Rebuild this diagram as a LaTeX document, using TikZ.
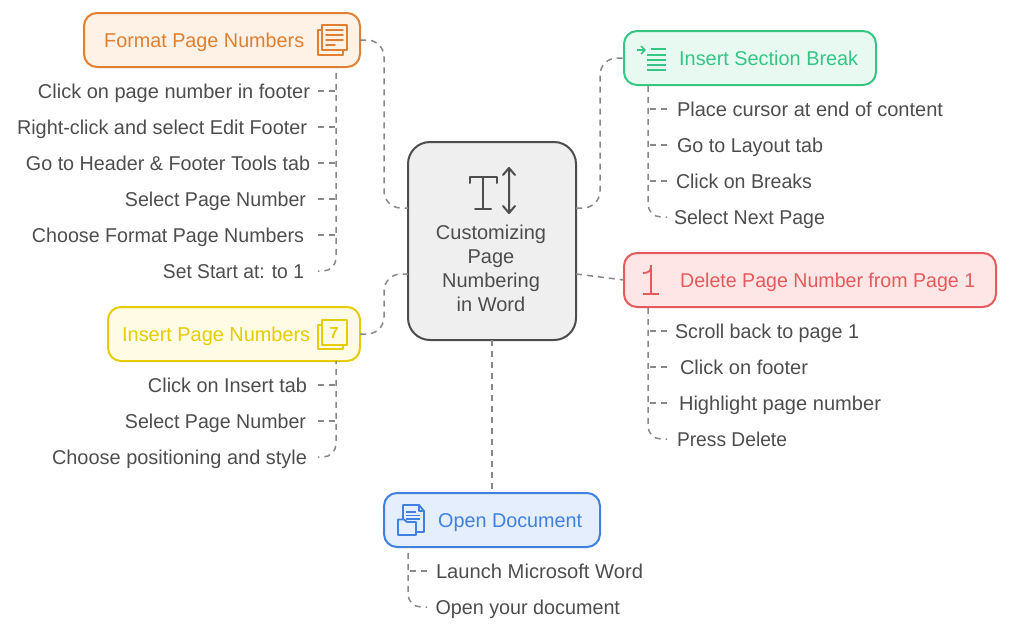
\documentclass[tikz,border=0pt]{standalone}
\usepackage{graphicx}
\usepackage{fontspec}
\setmainfont{Liberation Sans}
\newcommand{\fitw}[2]{\resizebox{#1pt}{\height}{#2}}
\definecolor{txt}{HTML}{4D4D4D}
\definecolor{conn}{HTML}{888888}
\definecolor{cfill}{HTML}{EFEFEF}
\definecolor{co}{HTML}{E08030}\definecolor{fo}{HTML}{FEF1E5}
\definecolor{cy}{HTML}{E6CC00}\definecolor{fy}{HTML}{FFFBE5}
\definecolor{cg}{HTML}{36C684}\definecolor{fg}{HTML}{E8F9F1}
\definecolor{cr}{HTML}{E55A5A}\definecolor{fr}{HTML}{FFE6E6}
\definecolor{cb}{HTML}{4080E0}\definecolor{fb}{HTML}{E5EEFD}
\tikzset{
  cbox/.style={draw=#1,line width=2pt,rounded corners=13pt,inner sep=0pt,outer sep=0pt},
  lead/.style={draw=conn,line width=1.5pt,dash pattern=on 6pt off 5pt},
  trunk/.style={draw=conn,line width=1.5pt,dash pattern=on 6pt off 5pt,dash phase=#1,rounded corners=13pt},
  leafL/.style={anchor=east,inner sep=0pt,text=txt,font=\fontsize{20}{24}\selectfont,text height=17pt,text depth=3pt,outer xsep=#1},
  leafR/.style={anchor=west,inner sep=0pt,text=txt,font=\fontsize{20}{24}\selectfont,text height=17pt,text depth=3pt,outer xsep=#1},
  title/.style={inner sep=0pt,text=#1,font=\fontsize{20}{24}\selectfont,text height=17pt,text depth=3pt},
  icon/.style={draw=#1,line width=1.8pt,line join=round,line cap=round},
}
\begin{document}
\begin{tikzpicture}[x=1pt,y=-1pt]
\useasboundingbox (0,0) rectangle (1009,632);
% boxes
\node[cbox=txt,fill=cfill,minimum width=168pt,minimum height=198pt,rounded corners=22pt] (center) at (492,241) {};
\node[cbox=co,fill=fo,minimum width=276pt,minimum height=54pt] (fmt) at (222,40) {};
\node[cbox=cy,fill=fy,minimum width=252pt,minimum height=54pt] (ins) at (234,334) {};
\node[cbox=cg,fill=fg,minimum width=252pt,minimum height=54pt] (sec) at (750,58) {};
\node[cbox=cr,fill=fr,minimum width=372pt,minimum height=54pt] (del) at (810,280) {};
\node[cbox=cb,fill=fb,minimum width=216pt,minimum height=54pt] (opn) at (492,520) {};
% titles
\node[title=co,anchor=west] (fmtt) at (104,40) {\fitw{200}{Format Page Numbers}};
\node[title=cy,anchor=west] (inst) at (122,334) {\fitw{188}{Insert Page Numbers}};
\node[title=cg,anchor=west] (sect) at (679,58) {\fitw{179}{Insert Section Break}};
\node[title=cr,anchor=west] (delt) at (680,280) {\fitw{295}{Delete Page Number from Page 1}};
\node[title=cb,anchor=west] (opnt) at (438,520) {\fitw{144}{Open Document}};
\node[text=txt,inner sep=0pt,align=center,font=\fontsize{20}{24}\selectfont,anchor=north] (ctxt) at (491,225) {Customizing\\Page\\Numbering\\in Word};
% attachment coordinates on the centre box
\coordinate (cNW) at (408,208);
\coordinate (cSW) at (408,274);
\coordinate (cNE) at (576,208);
\coordinate (cSE) at (576,274);
% main connectors
\draw[lead,rounded corners=17pt] (fmt.east) -- ++(24,0) |- (cNW);
\draw[lead,rounded corners=17pt] (ins.east) -- ++(24,0) |- (cSW);
\draw[lead,rounded corners=17pt] (cNE) -- ++(24,0) |- (sec.west);
\draw[lead] (cSE) -- (del.west);
\draw[lead] (center.south) -- (opn.north);
% leaves: format
\node[leafL=8pt] (f1) at (318,91) {\fitw{272}{Click on page number in footer}};
\node[leafL=11pt] (f2) at (318,127) {\fitw{290}{Right-click and select Edit Footer}};
\node[leafL=8pt] (f3) at (318,163) {\fitw{284}{Go to Header \& Footer Tools tab}};
\node[leafL=12pt] (f4) at (318,199) {\fitw{181}{Select Page Number}};
\node[leafL=14pt] (f5) at (318,235) {\fitw{272}{Choose Format Page Numbers}};
\node[leafL=14pt] (f6) at (318,271) {\fitw{141}{Set Start at: to 1}};
\coordinate (ft) at (336,67);
\foreach \n in {f1,f2,f3,f4,f5} \draw[lead] (\n.east) -- (\n.east -| ft);
\draw[trunk=5.1pt] (ft) |- (f6.east);
% leaves: insert
\node[leafL=11pt] (i1) at (318,385) {\fitw{159}{Click on Insert tab}};
\node[leafL=12pt] (i2) at (318,421) {\fitw{181}{Select Page Number}};
\node[leafL=11pt] (i3) at (318,457) {\fitw{255}{Choose positioning and style}};
\coordinate (it) at (336,361);
\foreach \n in {i1,i2} \draw[lead] (\n.east) -- (\n.east -| it);
\draw[trunk=3.1pt] (it) |- (i3.east);
% leaves: section
\node[leafR=10pt] (s1) at (667,109) {\fitw{266}{Place cursor at end of content}};
\node[leafR=10pt] (s2) at (667,145) {\fitw{146}{Go to Layout tab}};
\node[leafR=9pt] (s3) at (667,181) {\fitw{136}{Click on Breaks}};
\node[leafR=7pt] (s4) at (667,217) {\fitw{151}{Select Next Page}};
\coordinate (st) at (648,85);
\foreach \n in {s1,s2,s3} \draw[lead] (\n.west) -- (\n.west -| st);
\draw[trunk=10.1pt] (st) |- (s4.west);
% leaves: delete
\node[leafR=8pt] (d1) at (667,331) {\fitw{184}{Scroll back to page 1}};
\node[leafR=13pt] (d2) at (667,367) {\fitw{128}{Click on footer}};
\node[leafR=12pt] (d3) at (667,403) {\fitw{202}{Highlight page number}};
\node[leafR=10pt] (d4) at (667,439) {\fitw{110}{Press Delete}};
\coordinate (dt) at (648,307);
\foreach \n in {d1,d2,d3} \draw[lead] (\n.west) -- (\n.west -| dt);
\draw[trunk=10.1pt] (dt) |- (d4.west);
% leaves: open
\node[leafR=9pt] (o1) at (427,571) {\fitw{207}{Launch Microsoft Word}};
\node[leafR=8.5pt] (o2) at (427,607) {\fitw{184.5}{Open your document}};
\coordinate (ot) at (408,547);
\draw[lead] (o1.west) -- (o1.west -| ot);
\draw[trunk=5.1pt] (ot) |- (o2.west);
% icon: centre
\draw[icon=txt,line width=2pt] (469.5,183) -- (469.5,177) -- (497,177) -- (497,183);
\draw[icon=txt,line width=2pt] (483,177) -- (483,209) (475,209) -- (491,209);
\draw[icon=txt,line width=2pt] (509,168) -- (509,213) (503,175) -- (509,168) -- (515,175) (503,206) -- (509,213) -- (515,206);
% icon: format
\draw[icon=co] (322,25) rectangle (347,50);
\draw[icon=co] (322,30) -- (318,30) -- (318,55) -- (343,55) -- (343,50);
\draw[icon=co] (326,30) -- (343,30) (326,35) -- (343,35) (326,40) -- (343,40) (326,45) -- (335,45);
% icon: insert
\draw[icon=cy] (322,320) rectangle (347,345);
\draw[icon=cy] (322,325) -- (318,325) -- (318,349) -- (343,349) -- (343,345);
\node[inner sep=0pt,text=cy,font=\bfseries\fontsize{16}{16}\selectfont] (seven) at (334,332.5) {7};
% icon: section
\draw[icon=cg,line width=2pt,line cap=butt] (651,49) -- (666,49) (647,55) -- (666,55) (647,60) -- (666,60) (647,65) -- (666,65) (647,70) -- (666,70);
\draw[icon=cg,line width=1.6pt,line cap=butt] (637,50) -- (645,50) (641,46) -- (645,50) -- (641,54);
% icon: delete
\draw[icon=cr,line cap=butt] (651,265) -- (651,294) (643,294) -- (659,294);
\draw[icon=cr,line cap=butt] (643,273) -- (647,272.5) .. controls (649.5,272) and (651,270) .. (651,267);
% icon: open
\draw[icon=cb] (403,520) -- (403,505) -- (419,505) -- (424,511) -- (424,532) -- (416,532);
\draw[icon=cb] (419,505) -- (419,511) -- (424,511);
\draw[icon=cb,line cap=butt] (406,512) -- (416,512) (406,515.5) -- (420,515.5) (406,519) -- (420,519);
\draw[icon=cb,fill=fb] (398,524) -- (398,535) -- (416,535) -- (416,522) -- (407,522) -- (404,519.5) -- (398,519.5) -- cycle;
\end{tikzpicture}
\end{document}
